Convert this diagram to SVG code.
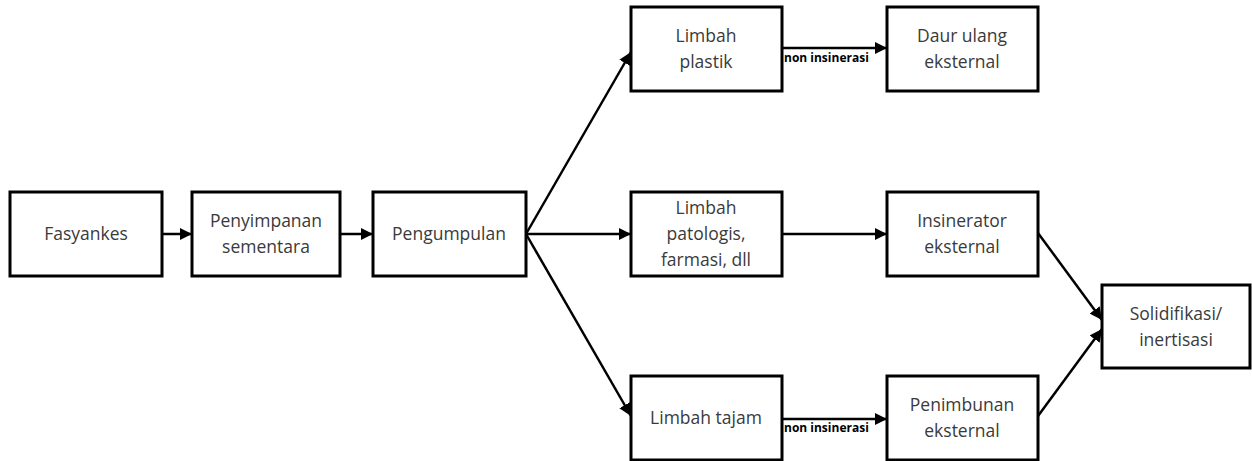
<svg xmlns="http://www.w3.org/2000/svg" width="1252" height="461" viewBox="0 0 1252 461">
<style>
.box{fill:#fff;stroke:#000;stroke-width:3}
.t{font-family:"Open Sans","Liberation Sans",sans-serif;font-size:17.5px;fill:#3a3a3a;text-anchor:middle}
.lbl{font-family:"Open Sans","Liberation Sans",sans-serif;font-size:12px;font-weight:bold;fill:#000}
.c{stroke:#000;stroke-width:2.5;fill:none;marker-end:url(#ah)}
</style>
<defs>
<marker id="ah" viewBox="0 0 10 10" refX="10" refY="5" markerWidth="5" markerHeight="5" markerUnits="strokeWidth" orient="auto">
<path d="M0,0 L10,5 L0,10 z" fill="#000"/>
</marker>
</defs>
<rect width="1252" height="461" fill="#fff"/>
<g id="connectors">
<line class="c" x1="162" y1="234" x2="192" y2="234"/>
<line class="c" x1="340" y1="234" x2="373" y2="234"/>
<line class="c" x1="526" y1="234" x2="631" y2="52"/>
<line class="c" x1="526" y1="234" x2="631" y2="234"/>
<line class="c" x1="526" y1="234" x2="631" y2="416"/>
<line class="c" x1="782" y1="48" x2="887" y2="48"/>
<line class="c" x1="782" y1="234" x2="887" y2="234"/>
<line class="c" x1="782" y1="419" x2="887" y2="419"/>
<line class="c" x1="1038" y1="233" x2="1102" y2="320"/>
<line class="c" x1="1038" y1="416" x2="1102" y2="329"/>
<text class="lbl" x="784" y="62">non insinerasi</text>
<text class="lbl" x="784" y="432">non insinerasi</text>
</g>
<g id="fasyankes"><rect class="box" x="10" y="192" width="152" height="84"/><text class="t" x="86" y="240">Fasyankes</text></g>
<g id="penyimpanan"><rect class="box" x="192" y="192" width="148" height="84"/><text class="t" x="266" y="227">Penyimpanan</text><text class="t" x="266" y="253">sementara</text></g>
<g id="pengumpulan"><rect class="box" x="373" y="192" width="153" height="84"/><text class="t" x="449" y="240">Pengumpulan</text></g>
<g id="plastik"><rect class="box" x="631" y="7" width="151" height="84"/><text class="t" x="706" y="42">Limbah</text><text class="t" x="706" y="68">plastik</text></g>
<g id="patologis"><rect class="box" x="631" y="192" width="151" height="84"/><text class="t" x="706" y="214">Limbah</text><text class="t" x="706" y="240">patologis,</text><text class="t" x="706" y="266">farmasi, dll</text></g>
<g id="tajam"><rect class="box" x="631" y="376" width="151" height="84"/><text class="t" x="706" y="424">Limbah tajam</text></g>
<g id="daur"><rect class="box" x="887" y="7" width="151" height="84"/><text class="t" x="962" y="42">Daur ulang</text><text class="t" x="962" y="68">eksternal</text></g>
<g id="insinerator"><rect class="box" x="887" y="192" width="151" height="84"/><text class="t" x="962" y="227">Insinerator</text><text class="t" x="962" y="253">eksternal</text></g>
<g id="penimbunan"><rect class="box" x="887" y="376" width="151" height="84"/><text class="t" x="962" y="411">Penimbunan</text><text class="t" x="962" y="437">eksternal</text></g>
<g id="solidifikasi"><rect class="box" x="1102" y="285" width="148" height="83"/><text class="t" x="1176" y="320">Solidifikasi/</text><text class="t" x="1176" y="346">inertisasi</text></g>
</svg>
